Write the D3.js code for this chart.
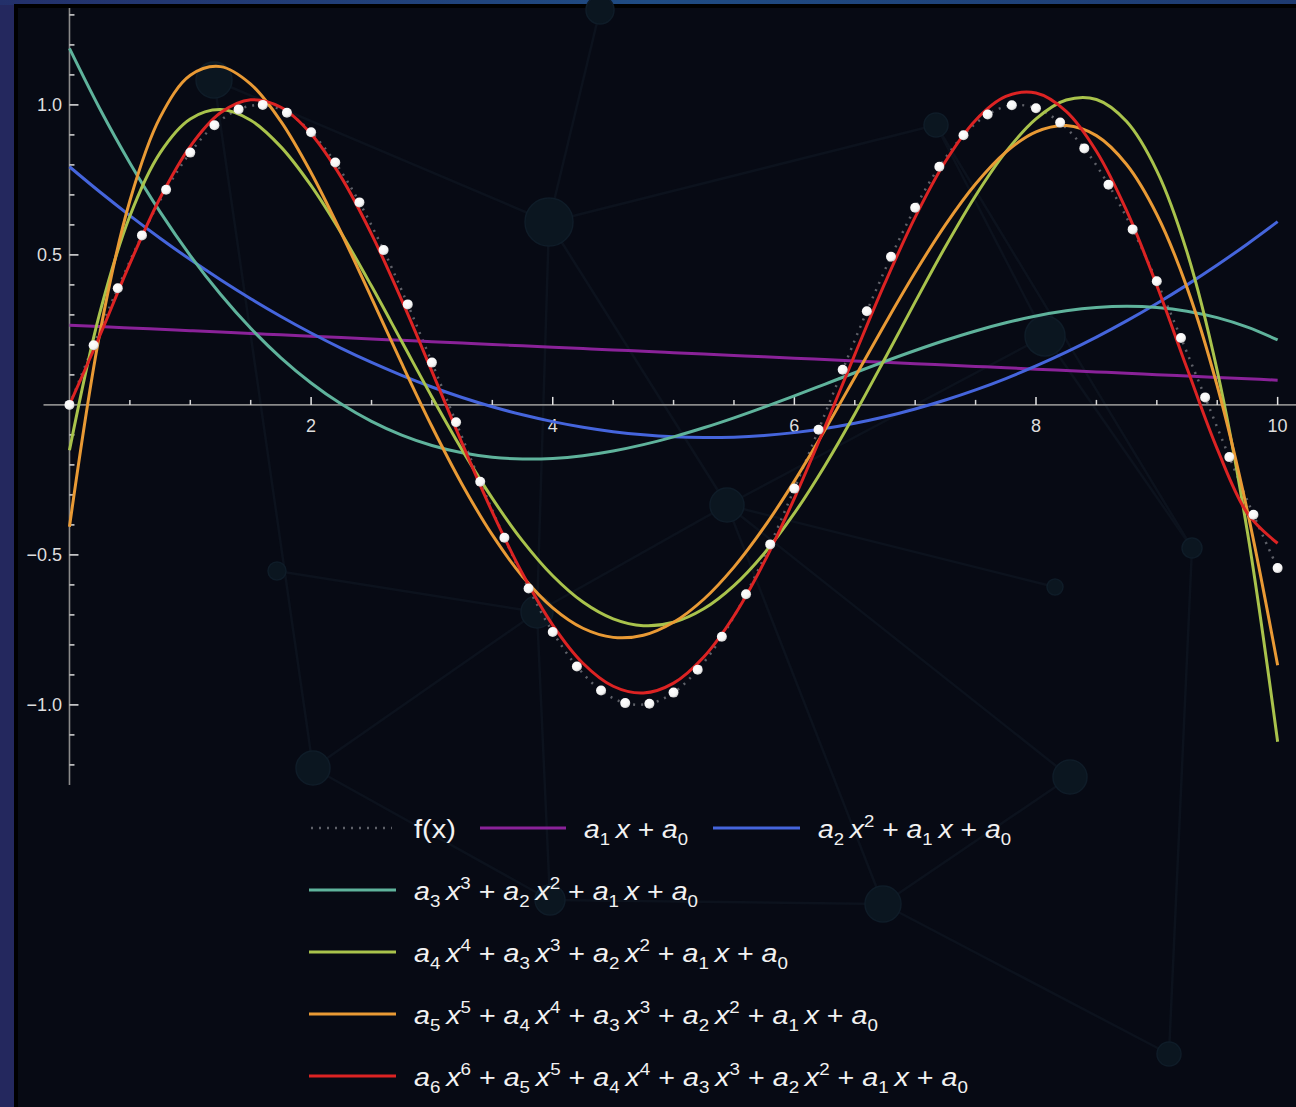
<!DOCTYPE html>
<html>
<head>
<meta charset="utf-8">
<title>Polynomial fits</title>
<style>
  body, html { margin: 0; padding: 0; background: #24285e; }
  svg { display: block; }
  .tick-label { font: 18px "Liberation Sans", Arial, sans-serif; fill: #dedede; }
  .legend-text { font: 26px "Liberation Sans", Arial, sans-serif; fill: #f2f2f2; }
</style>
<script src="https://cdn.jsdelivr.net/npm/d3@7"></script>
</head>
<body>
<svg width="1296" height="1107"></svg>
<script>
// sampled f(x)
const sampleX = [0, 0.2, 0.4, 0.6, 0.8, 1.0, 1.2, 1.4, 1.6, 1.8, 2.0, 2.2, 2.4, 2.6, 2.8, 3.0, 3.2, 3.4, 3.6, 3.8,
  4.0, 4.2, 4.4, 4.6, 4.8, 5.0, 5.2, 5.4, 5.6, 5.8, 6.0, 6.2, 6.4, 6.6, 6.8, 7.0, 7.2, 7.4, 7.6, 7.8,
  8.0, 8.2, 8.4, 8.6, 8.8, 9.0, 9.2, 9.4, 9.6, 9.8, 10.0];
const sampleY = [0, 0.199, 0.389, 0.565, 0.717, 0.841, 0.932, 0.985, 1.000, 0.974, 0.909, 0.808, 0.675, 0.516, 0.335,
  0.141, -0.058, -0.256, -0.443, -0.612, -0.757, -0.872, -0.952, -0.994, -0.996, -0.959, -0.883, -0.773, -0.631,
  -0.465, -0.279, -0.083, 0.117, 0.312, 0.494, 0.657, 0.794, 0.899, 0.968, 0.999, 0.989, 0.941, 0.855, 0.734,
  0.585, 0.412, 0.223, 0.025, -0.174, -0.366, -0.544];

// fitted polynomials, read at these x
const curveX = [0, 0.25, 0.5, 0.75, 1, 1.25, 1.5, 1.75, 2, 2.25, 2.5, 2.75, 3, 3.25, 3.5, 3.75, 4, 4.25, 4.5, 4.75,
  5, 5.25, 5.5, 5.75, 6, 6.25, 6.5, 6.75, 7, 7.25, 7.5, 7.75, 8, 8.25, 8.5, 8.75, 9, 9.25, 9.5, 9.75, 10];
const fit1 = [0.2656, 0.2610, 0.2565, 0.2519, 0.2473, 0.2427, 0.2381, 0.2336, 0.2290, 0.2244, 0.2198, 0.2153, 0.2107,
  0.2061, 0.2015, 0.1970, 0.1924, 0.1878, 0.1832, 0.1787, 0.1741, 0.1695, 0.1649, 0.1603, 0.1558, 0.1512, 0.1466,
  0.1420, 0.1375, 0.1329, 0.1283, 0.1237, 0.1192, 0.1146, 0.1100, 0.1054, 0.1009, 0.0963, 0.0917, 0.0871, 0.0825];
const fit2 = [0.7939, 0.7105, 0.6311, 0.5557, 0.4844, 0.4172, 0.3540, 0.2948, 0.2397, 0.1886, 0.1416, 0.0986, 0.0596,
  0.0247, -0.0062, -0.0330, -0.0558, -0.0745, -0.0892, -0.0998, -0.1064, -0.1090, -0.1075, -0.1019, -0.0924, -0.0787,
  -0.0611, -0.0394, -0.0136, 0.0162, 0.0500, 0.0879, 0.1298, 0.1758, 0.2258, 0.2799, 0.3380, 0.4001, 0.4663, 0.5366, 0.6108];
const fit3 = [1.1883, 0.9880, 0.8066, 0.6434, 0.4977, 0.3686, 0.2553, 0.1571, 0.0732, 0.0028, -0.0549, -0.1007, -0.1353,
  -0.1596, -0.1744, -0.1804, -0.1784, -0.1692, -0.1536, -0.1324, -0.1064, -0.0763, -0.0430, -0.0072, 0.0303, 0.0687,
  0.1072, 0.1450, 0.1813, 0.2154, 0.2465, 0.2737, 0.2963, 0.3135, 0.3245, 0.3285, 0.3247, 0.3125, 0.2908, 0.2591, 0.2164];
const fit4 = [-0.1510, 0.3052, 0.6297, 0.8401, 0.9531, 0.9845, 0.9489, 0.8600, 0.7306, 0.5724, 0.3960, 0.2112, 0.0266,
  -0.1499, -0.3118, -0.4533, -0.5696, -0.6571, -0.7131, -0.7358, -0.7246, -0.6797, -0.6024, -0.4951, -0.3609, -0.2042,
  -0.0302, 0.1547, 0.3433, 0.5272, 0.6973, 0.8432, 0.9536, 1.0163, 1.0180, 0.9444, 0.7802, 0.5091, 0.1139, -0.4237, -1.1230];
const fit5 = [-0.4061, 0.2363, 0.6806, 0.9584, 1.0986, 1.1276, 1.0693, 0.9451, 0.7740, 0.5730, 0.3568, 0.1382, -0.0720,
  -0.2650, -0.4335, -0.5720, -0.6765, -0.7445, -0.7749, -0.7678, -0.7246, -0.6478, -0.5407, -0.4077, -0.2540, -0.0855,
  0.0915, 0.2698, 0.4419, 0.6002, 0.7364, 0.8426, 0.9102, 0.9313, 0.8976, 0.8012, 0.6347, 0.3909, 0.0631, -0.3547, -0.8679];
const fit6 = [0.0005, 0.2296, 0.4708, 0.6896, 0.8621, 0.9736, 1.0171, 0.9922, 0.9032, 0.7585, 0.5695, 0.3492, 0.1119,
  -0.1283, -0.3575, -0.5630, -0.7338, -0.8610, -0.9378, -0.9603, -0.9273, -0.8403, -0.7036, -0.5242, -0.3114, -0.0765,
  0.1675, 0.4065, 0.6258, 0.8112, 0.9491, 1.0281, 1.0394, 0.9784, 0.8454, 0.6472, 0.3982, 0.1221, -0.1467, -0.3614, -0.4613];

const fits = [fit1, fit2, fit3, fit4, fit5, fit6];
const fitColors = ['#8a2299', '#4565dc', '#5fb39c', '#a9c34c', '#e99a35', '#dc2323'];

const xMajor = [2, 4, 6, 8, 10];
const xLabels = ['2', '4', '6', '8', '10'];
const yMajor = [-1.0, -0.5, 0.5, 1.0];
const yLabels = ['\u22121.0', '\u22120.5', '0.5', '1.0'];

// faint background network (decoration)
const bgNodes = [[600, 10, 14], [214, 80, 18], [549, 222, 24], [936, 125, 12], [1045, 336, 20], [727, 505, 17],
  [537, 612, 16], [277, 571, 9], [313, 768, 17], [1070, 777, 17], [1192, 548, 10], [1055, 587, 8],
  [550, 900, 15], [883, 904, 18], [1169, 1054, 12]];
const bgEdges = [[0, 2], [1, 2], [2, 3], [2, 5], [2, 6], [3, 4], [4, 5], [5, 6], [6, 8], [5, 9], [4, 10], [9, 13],
  [8, 12], [12, 13], [13, 14], [10, 14], [6, 12], [5, 13], [1, 8], [3, 10], [7, 6], [11, 5]];

const svg = d3.select('svg');
const W = +svg.attr('width'), H = +svg.attr('height');

const x = d3.scaleLinear().domain([-0.215, 10.2]).range([43.5, 1301.8]);
const y = d3.scaleLinear().domain([-1.267, 1.323]).range([785, 8]);

// frame
svg.append('rect').attr('width', W).attr('height', H).attr('fill', '#24285e');
const defs = svg.append('defs');
const topGrad = defs.append('linearGradient').attr('id', 'topg');
topGrad.append('stop').attr('offset', '0%').attr('stop-color', '#23306a');
topGrad.append('stop').attr('offset', '50%').attr('stop-color', '#1f4b82');
topGrad.append('stop').attr('offset', '100%').attr('stop-color', '#1e3a70');
svg.append('rect').attr('x', 0).attr('y', 0).attr('width', W).attr('height', 5).attr('fill', 'url(#topg)');
svg.append('rect').attr('x', 14).attr('y', 4).attr('width', W).attr('height', H).attr('fill', '#000');
svg.append('rect').attr('x', 18).attr('y', 8).attr('width', W).attr('height', H).attr('fill', '#070a14');

const bg = svg.append('g');
bg.selectAll('line').data(bgEdges).enter().append('line')
  .attr('x1', d => bgNodes[d[0]][0]).attr('y1', d => bgNodes[d[0]][1])
  .attr('x2', d => bgNodes[d[1]][0]).attr('y2', d => bgNodes[d[1]][1])
  .attr('stroke', '#0c121d').attr('stroke-width', 2.5);
bg.selectAll('circle').data(bgNodes).enter().append('circle')
  .attr('cx', d => d[0]).attr('cy', d => d[1]).attr('r', d => d[2])
  .attr('fill', '#0b1620').attr('stroke', '#0f1c28').attr('stroke-width', 1.5);

// axes
const axes = svg.append('g');
axes.append('line').attr('x1', x(-0.215)).attr('x2', W).attr('y1', y(0)).attr('y2', y(0))
  .attr('stroke', '#8a8a8a').attr('stroke-width', 1.6);
axes.append('line').attr('x1', x(0)).attr('x2', x(0)).attr('y1', y(1.323)).attr('y2', y(-1.267))
  .attr('stroke', '#8a8a8a').attr('stroke-width', 1.6);

const xMinor = d3.range(1, 21).map(i => i / 2).filter(v => !xMajor.includes(v));
axes.selectAll('.xminor').data(xMinor).enter().append('line')
  .attr('x1', d => x(d)).attr('x2', d => x(d)).attr('y1', y(0)).attr('y2', y(0) - 5)
  .attr('stroke', '#d8d8d8').attr('stroke-width', 1.5);
axes.selectAll('.xmajor').data(xMajor).enter().append('line')
  .attr('x1', d => x(d)).attr('x2', d => x(d)).attr('y1', y(0)).attr('y2', y(0) - 8)
  .attr('stroke', '#e6e6e6').attr('stroke-width', 1.5);
axes.selectAll('.xlab').data(xMajor).enter().append('text')
  .attr('class', 'tick-label').attr('x', d => x(d)).attr('y', y(0) + 27)
  .attr('text-anchor', 'middle').text((d, i) => xLabels[i]);

const yMinor = d3.range(-12, 14).map(i => i / 10).filter(v => Math.abs(v) > 1e-9 && !yMajor.some(m => Math.abs(m - v) < 1e-9));
axes.selectAll('.yminor').data(yMinor).enter().append('line')
  .attr('x1', x(0)).attr('x2', x(0) + 5).attr('y1', d => y(d)).attr('y2', d => y(d))
  .attr('stroke', '#d8d8d8').attr('stroke-width', 1.5);
axes.selectAll('.ymajor').data(yMajor).enter().append('line')
  .attr('x1', x(0)).attr('x2', x(0) + 9).attr('y1', d => y(d)).attr('y2', d => y(d))
  .attr('stroke', '#e6e6e6').attr('stroke-width', 1.5);
axes.selectAll('.ylab').data(yMajor).enter().append('text')
  .attr('class', 'tick-label').attr('x', 62).attr('y', d => y(d) + 6.5)
  .attr('text-anchor', 'end').text((d, i) => yLabels[i]);

// f(x) dotted
const line = d3.line().x(d => x(d[0])).y(d => y(d[1])).curve(d3.curveCatmullRom.alpha(0.5));
svg.append('path').datum(sampleX.map((v, i) => [v, sampleY[i]]))
  .attr('d', line).attr('fill', 'none').attr('stroke', '#5e6068')
  .attr('stroke-width', 2.5).attr('stroke-dasharray', '2 6');

// fitted curves
svg.selectAll('.fit').data(fits).enter().append('path')
  .attr('class', 'fit')
  .attr('d', f => line(curveX.map((v, i) => [v, f[i]])))
  .attr('fill', 'none').attr('stroke', (f, i) => fitColors[i]).attr('stroke-width', 3);

// sample dots
const dg = defs.append('radialGradient').attr('id', 'dotg')
  .attr('cx', '40%').attr('cy', '35%').attr('r', '70%');
dg.append('stop').attr('offset', '0%').attr('stop-color', '#ffffff');
dg.append('stop').attr('offset', '70%').attr('stop-color', '#f4f4f4');
dg.append('stop').attr('offset', '100%').attr('stop-color', '#b8b8b8');
svg.selectAll('.dot').data(sampleX).enter().append('circle')
  .attr('class', 'dot').attr('cx', d => x(d)).attr('cy', (d, i) => y(sampleY[i]))
  .attr('r', 5).attr('fill', 'url(#dotg)');

// legend
const legend = svg.append('g');
function formula(n) {
  const parts = [];
  for (let k = n; k >= 0; k--) {
    parts.push(['a', 'it']);
    parts.push([String(k), 'sub']);
    if (k >= 1) {
      parts.push(['\u2009', 'n']);
      parts.push(['x', 'it']);
      if (k >= 2) parts.push([String(k), 'sup']);
      parts.push([' + ', 'n']);
    }
  }
  return parts;
}
function drawText(parts, tx, ty, width) {
  const t = legend.append('text').attr('class', 'legend-text').attr('x', tx).attr('y', ty)
    .attr('textLength', width).attr('lengthAdjust', 'spacingAndGlyphs');
  let shift = 0;
  parts.forEach(p => {
    const s = p[1] === 'sub' ? 7 : p[1] === 'sup' ? -11 : 0;
    const ts = t.append('tspan').text(p[0]).attr('dy', s - shift);
    if (p[1] === 'it') ts.attr('font-style', 'italic');
    if (p[1] === 'sub' || p[1] === 'sup') ts.attr('font-size', 17);
    shift = s;
  });
}
function legendLine(x1, x2, ly, color, dashed) {
  const l = legend.append('line').attr('x1', x1).attr('x2', x2).attr('y1', ly).attr('y2', ly)
    .attr('stroke', color).attr('stroke-width', 3);
  if (dashed) l.attr('stroke', '#5e6068').attr('stroke-width', 2.5).attr('stroke-dasharray', '2 6');
}

// row 1
legendLine(311, 392, 828, '#5e6068', true);
drawText([['f(x)', 'n']], 414, 838, 42);
legendLine(480, 566, 828, fitColors[0]);
drawText(formula(1), 584, 838, 104);
legendLine(713, 800, 828, fitColors[1]);
drawText(formula(2), 818, 838, 193);
// rows 2..5
const rowEnds = [698, 788, 878, 968];
[3, 4, 5, 6].forEach((n, i) => {
  const ly = 890 + 62 * i;
  legendLine(309, 396, ly, fitColors[n - 1]);
  drawText(formula(n), 414, ly + 10, rowEnds[i] - 414);
});
</script>
</body>
</html>
